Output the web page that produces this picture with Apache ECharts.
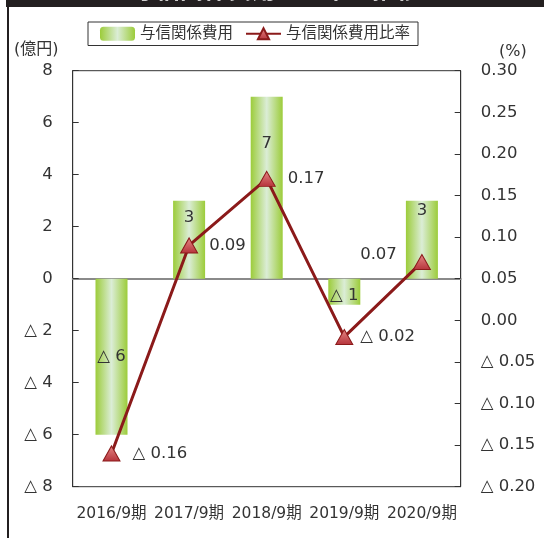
<!DOCTYPE html>
<html><head><meta charset="utf-8">
<script src="https://cdn.jsdelivr.net/npm/echarts@6/dist/echarts.min.js"></script>
<style>html,body{margin:0;padding:0;background:#fff}#c{width:544px;height:538px}</style>
</head><body><div id="c"></div>
<script>
const categories = ['2016/9期', '2017/9期', '2018/9期', '2019/9期', '2020/9期'];
const costValues = [-6, 3, 7, -1, 3];            // 与信関係費用 (億円)
const ratioValues = [-0.16, 0.09, 0.17, -0.02, 0.07]; // 与信関係費用比率 (%)
const seriesNames = ['与信関係費用', '与信関係費用比率'];
const titleText = '与信関係費用・比率の推移';

const FONT = '"DejaVu Sans", "Noto Sans CJK JP", sans-serif';
const neg = (v, d) => {
  if (Math.abs(v) < 1e-9) v = 0;
  const s = d == null ? String(Math.abs(v)) : Math.abs(v).toFixed(d);
  return v < 0 ? '△ ' + s : s;
};

// per-item label placement (styling only)
const barLabelCfg = [
  { position: 'inside' },
  { position: 'insideTop', distance: 9 },
  { position: 'insideTop', distance: 39 },
  { position: 'inside', offset: [0, 4] },
  { position: 'insideTop', distance: 2 }
];
const lineLabelCfg = [
  { position: 'right', distance: 12 },
  { position: 'right', distance: 11 },
  { position: 'right', distance: 12 },
  { position: 'right', distance: 7 },
  { position: 'left', distance: 16, offset: [0, -7] }
];

const barGrad = new echarts.graphic.LinearGradient(0, 0, 1, 0, [
  { offset: 0, color: '#9ccc3a' },
  { offset: 0.5, color: '#dbedd6' },
  { offset: 1, color: '#9ccc3a' }
]);
const markerGrad = new echarts.graphic.LinearGradient(0, 0, 0, 1, [
  { offset: 0, color: '#e68886' },
  { offset: 1, color: '#b5323a' }
]);

const chart = echarts.init(document.getElementById('c'));
chart.setOption({
  animation: false,
  textStyle: { fontFamily: FONT },
  graphic: [
    { type: 'rect', shape: { x: 6, y: 0, width: 538, height: 7 }, style: { fill: '#231f20' }, z: 10 },
    { type: 'text', x: 276, y: 4, style: { text: titleText, fill: '#fff', font: 'bold 24px ' + FONT, align: 'center', verticalAlign: 'bottom' }, z: 11 },
    { type: 'rect', shape: { x: 7, y: 0, width: 2, height: 538 }, style: { fill: '#231f20' }, z: 10 },
    { type: 'text', x: 14, y: 50, style: { text: '(億円)', fill: '#333', font: '16px ' + FONT, verticalAlign: 'middle' } },
    { type: 'text', x: 499, y: 52, style: { text: '(%)', fill: '#333', font: '16px ' + FONT, verticalAlign: 'middle' } }
  ],
  legend: {
    left: 88, top: 22,
    itemWidth: 35, itemHeight: 14, itemGap: 12,
    borderColor: '#333', borderWidth: 1, borderRadius: 0,
    padding: [4, 8, 4, 12],
    textStyle: { fontSize: 15.5, color: '#333', fontFamily: FONT },
    data: seriesNames
  },
  grid: { left: 72.7, right: 83.3, top: 70.7, bottom: 51.3, show: true, borderColor: '#333', borderWidth: 1, backgroundColor: 'transparent' },
  xAxis: [
    {
      type: 'category', data: categories, position: 'bottom',
      axisLine: { onZero: true, lineStyle: { color: '#8a8a8a', width: 2 } },
      axisTick: { inside: true, length: 6, lineStyle: { color: '#555' } },
      axisLabel: { show: false }, splitLine: { show: false }
    },
    {
      type: 'category', data: categories, position: 'bottom',
      axisLine: { show: false, onZero: false }, axisTick: { show: false },
      axisLabel: { interval: 0, hideOverlap: false, margin: 20, fontSize: 15.5, color: '#333', fontFamily: FONT }
    }
  ],
  yAxis: [
    {
      type: 'value', min: -8, max: 8, interval: 2,
      axisLine: { show: true, lineStyle: { color: '#333' } },
      axisTick: { show: true, inside: true, length: 6, lineStyle: { color: '#333' } },
      splitLine: { show: false },
      axisLabel: { margin: 20, fontSize: 16.5, color: '#333', formatter: v => neg(v) }
    },
    {
      type: 'value', min: -0.2, max: 0.3, interval: 0.05, position: 'right', alignTicks: false,
      axisLine: { show: true, lineStyle: { color: '#333' } },
      axisTick: { show: true, inside: true, length: 6, lineStyle: { color: '#333' } },
      splitLine: { show: false },
      axisLabel: { margin: 20, fontSize: 16.5, color: '#333', formatter: v => neg(v, 2) }
    }
  ],
  series: [
    {
      name: seriesNames[0], type: 'bar', xAxisIndex: 0, yAxisIndex: 0, barWidth: 32,
      itemStyle: { color: barGrad },
      label: { show: true, fontSize: 16.5, color: '#333', formatter: p => neg(p.value) },
      data: costValues.map((v, i) => ({ value: v, label: barLabelCfg[i] })),
      z: 2
    },
    {
      name: seriesNames[1], type: 'line', xAxisIndex: 0, yAxisIndex: 1,
      symbol: 'triangle', symbolSize: [17, 15],
      lineStyle: { color: '#8b1a1a', width: 3 },
      itemStyle: { color: markerGrad, borderColor: '#8b1a1a', borderWidth: 1 },
      label: { show: true, fontSize: 16.5, color: '#333', formatter: p => neg(p.value, 2) },
      data: ratioValues.map((v, i) => ({ value: v, label: lineLabelCfg[i] })),
      z: 5
    }
  ]
});
</script></body></html>
